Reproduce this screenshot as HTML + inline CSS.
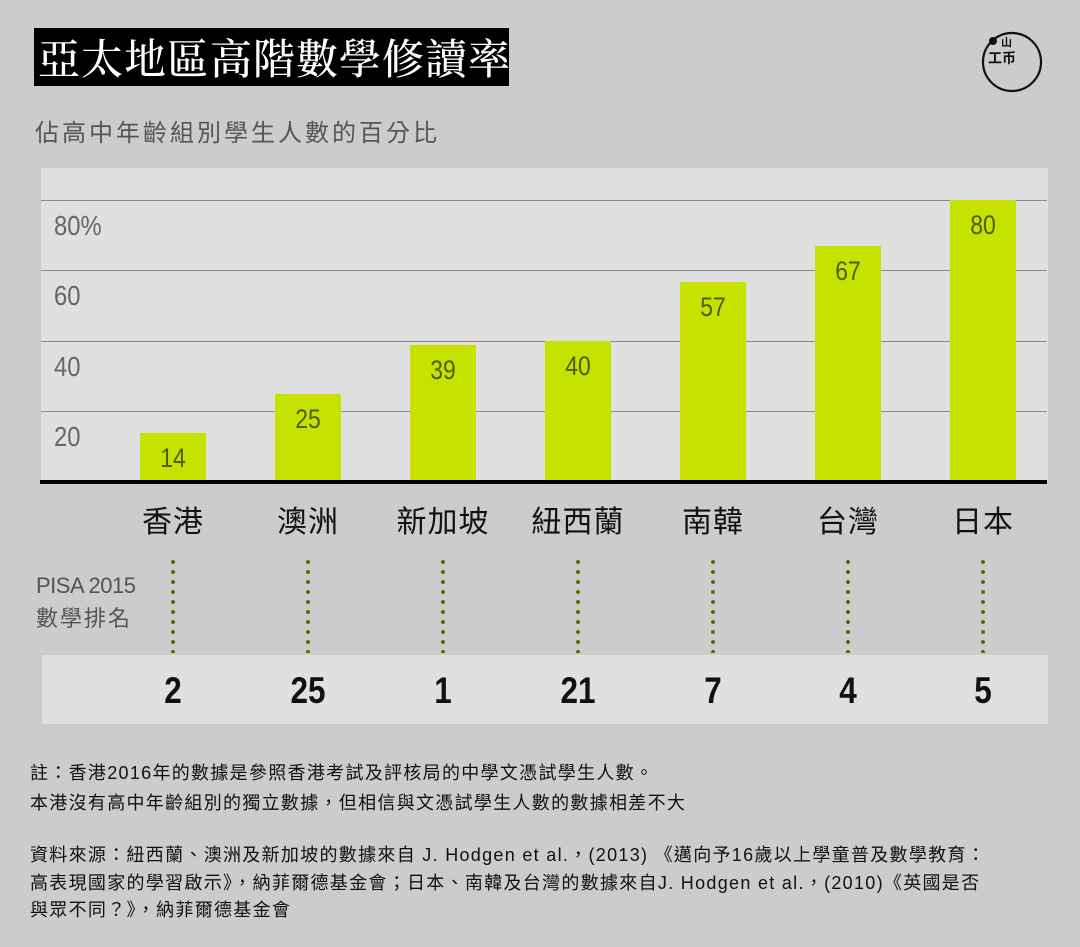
<!DOCTYPE html>
<html><head><meta charset="utf-8"><style>
body{margin:0;width:1080px;height:947px;background:#cccccc;position:relative;overflow:hidden;font-family:"Liberation Sans","Noto Sans CJK TC",sans-serif}
.a{position:absolute}
.grid{position:absolute;left:41px;width:1006px;height:1px;background:#8a8a8a}
.yl{position:absolute;left:54px;font-size:28px;color:#666;line-height:1;transform:scaleX(0.85);transform-origin:left}
.bar{position:absolute;width:66px;background:#c5e200;bottom:465px}
.bar span{position:absolute;left:0;right:0;top:12px;text-align:center;font-size:27px;color:#4f5c00;line-height:1;transform:scaleX(0.85)}
.c{position:absolute;top:503px;width:160px;text-align:center;font-size:30px;color:#111;line-height:40px;letter-spacing:1px}
.dots{position:absolute;top:557px;width:4px;height:96px;background:radial-gradient(circle,#556b00 1.8px,transparent 2.2px) 0 0/4px 10px repeat-y}
.r{position:absolute;top:670px;width:100px;text-align:center;font-size:37px;font-weight:bold;color:#111;line-height:42px;transform:scaleX(0.85)}
.n{position:absolute;left:30px;font-size:18px;color:#111;line-height:1;white-space:nowrap;letter-spacing:1.3px}
</style></head><body>
<div class="a" style="left:34px;top:28px;width:475px;height:58px;background:#000"></div>
<div class="a" style="left:38px;top:31px;font-family:'Noto Serif CJK TC','Noto Serif CJK SC',serif;font-size:42px;color:#fff;line-height:52px;letter-spacing:1px;font-weight:500">亞太地區高階數學修讀率</div>
<svg class="a" style="left:975px;top:30px" width="70" height="65"><circle cx="37" cy="32" r="29" fill="none" stroke="#111" stroke-width="2.2"/><circle cx="18" cy="11" r="4" fill="#111"/><text x="26" y="16" font-size="11" font-weight="bold" fill="#111" font-family="Noto Sans CJK TC">山</text><text x="13" y="33" font-size="14" font-weight="bold" fill="#111" font-family="Noto Sans CJK TC">工</text><text x="27" y="33" font-size="14" font-weight="bold" fill="#111" font-family="Noto Sans CJK TC">币</text></svg>
<div class="a" style="left:35px;top:119px;font-size:24px;color:#555;letter-spacing:3px;line-height:30px">佔高中年齡組別學生人數的百分比</div>
<div class="a" style="left:41px;top:168px;width:1007px;height:313px;background:#e0e0e0"></div>
<div class="grid" style="top:200px"></div><div class="grid" style="top:270px"></div><div class="grid" style="top:341px"></div><div class="grid" style="top:411px"></div>
<div class="yl" style="top:212px">80%</div><div class="yl" style="top:282px">60</div><div class="yl" style="top:353px">40</div><div class="yl" style="top:423px">20</div>
<div class="bar" style="left:140px;height:49px"><span>14</span></div>
<div class="bar" style="left:275px;height:88px"><span>25</span></div>
<div class="bar" style="left:410px;height:137px"><span>39</span></div>
<div class="bar" style="left:545px;height:141px"><span>40</span></div>
<div class="bar" style="left:680px;height:200px"><span>57</span></div>
<div class="bar" style="left:815px;height:236px"><span>67</span></div>
<div class="bar" style="left:950px;height:282px"><span>80</span></div>
<div class="a" style="left:40px;top:480px;width:1007px;height:4px;background:#000"></div>
<div class="c" style="left:93px">香港</div><div class="c" style="left:228px">澳洲</div><div class="c" style="left:363px">新加坡</div><div class="c" style="left:498px">紐西蘭</div><div class="c" style="left:633px">南韓</div><div class="c" style="left:768px">台灣</div><div class="c" style="left:903px">日本</div>
<div class="a" style="left:36px;top:569px;font-size:22px;color:#555;line-height:33px;letter-spacing:-0.5px">PISA 2015<br><span style="letter-spacing:2px">數學排名</span></div>
<div class="dots" style="left:171px"></div><div class="dots" style="left:306px"></div><div class="dots" style="left:441px"></div><div class="dots" style="left:576px"></div><div class="dots" style="left:711px"></div><div class="dots" style="left:846px"></div><div class="dots" style="left:981px"></div>
<div class="a" style="left:42px;top:655px;width:1006px;height:69px;background:#e0e0e0"></div>
<div class="r" style="left:123px">2</div><div class="r" style="left:258px">25</div><div class="r" style="left:393px">1</div><div class="r" style="left:528px">21</div><div class="r" style="left:663px">7</div><div class="r" style="left:798px">4</div><div class="r" style="left:933px">5</div>
<div class="n" style="top:764px">註：香港2016年的數據是參照香港考試及評核局的中學文憑試學生人數。</div>
<div class="n" style="top:794px">本港沒有高中年齡組別的獨立數據，但相信與文憑試學生人數的數據相差不大</div>
<div class="n" style="top:846px">資料來源：紐西蘭、澳洲及新加坡的數據來自 J. Hodgen et al.，(2013) 《邁向予16歲以上學童普及數學教育：</div>
<div class="n" style="top:874px">高表現國家的學習啟示》，納菲爾德基金會；日本、南韓及台灣的數據來自J. Hodgen et al.，(2010)《英國是否</div>
<div class="n" style="top:901px">與眾不同？》，納菲爾德基金會</div>
</body></html>
